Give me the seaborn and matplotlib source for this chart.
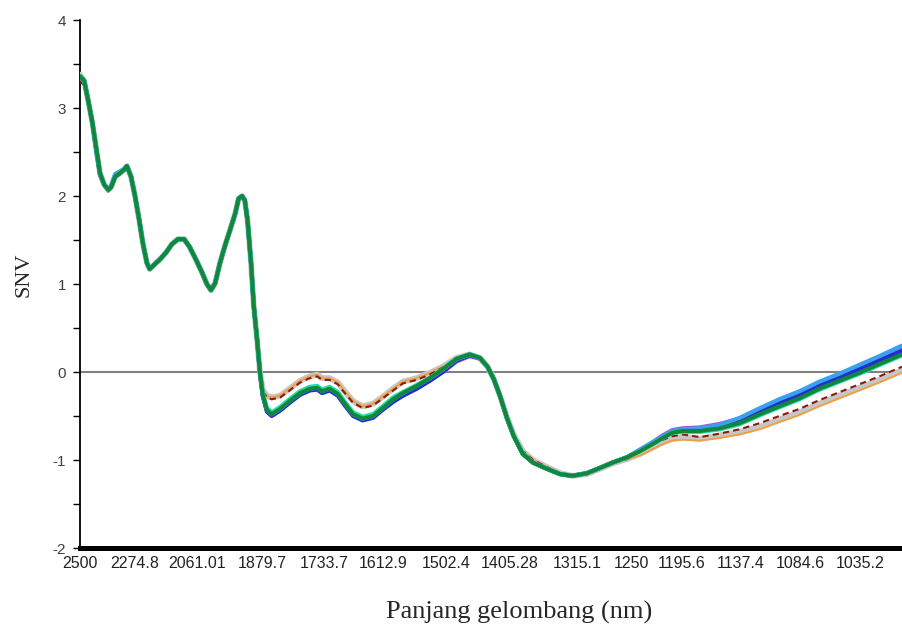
import matplotlib
matplotlib.use("Agg")
import matplotlib.pyplot as plt
import numpy as np
import pandas as pd
import seaborn as sns
from matplotlib.ticker import FixedLocator, MultipleLocator

# Wavenumber grid (cm^-1); the x axis is linear in wavenumber, labelled in nm
wavenumber = [
    4000, 4030, 4060, 4090, 4115, 4145, 4175, 4205, 4225, 4255,
    4290, 4320, 4340, 4370, 4400, 4430, 4455, 4485, 4505, 4545,
    4580, 4625, 4665, 4710, 4755, 4795, 4840, 4885, 4920, 4950,
    4980, 5015, 5050, 5085, 5125, 5150, 5175, 5195, 5215, 5240,
    5260, 5285, 5305, 5325, 5355, 5390, 5450, 5520, 5595, 5665,
    5720, 5755, 5810, 5870, 5920, 5980, 6050, 6125, 6195, 6270,
    6340, 6440, 6535, 6630, 6730, 6825, 6900, 6955, 7000, 7045,
    7095, 7145, 7210, 7285, 7385, 7480, 7570, 7675, 7770, 7860,
    7965, 8060, 8150, 8225, 8295, 8370, 8495, 8640, 8785, 8930,
    9070, 9215, 9360, 9505, 9650, 9795, 9960,
]

snv_green = [
    3.36, 3.31, 3.08, 2.83, 2.57, 2.26, 2.13, 2.07, 2.10, 2.22,
    2.26, 2.30, 2.34, 2.22, 1.99, 1.72, 1.47, 1.24, 1.17, 1.23,
    1.28, 1.36, 1.45, 1.51, 1.51, 1.42, 1.28, 1.13, 1.00, 0.93,
    1.01, 1.24, 1.43, 1.60, 1.80, 1.97, 2.00, 1.95, 1.72, 1.24,
    0.75, 0.35, -0.01, -0.26, -0.43, -0.48, -0.42, -0.33, -0.24, -0.19,
    -0.18, -0.22, -0.19, -0.25, -0.36, -0.48, -0.53, -0.50, -0.41, -0.31,
    -0.24, -0.16, -0.07, 0.03, 0.15, 0.20, 0.16, 0.06, -0.08, -0.27,
    -0.52, -0.73, -0.93, -1.03, -1.10, -1.16, -1.18, -1.15, -1.09, -1.03,
    -0.97, -0.90, -0.82, -0.75, -0.69, -0.67, -0.67, -0.64, -0.58, -0.48,
    -0.39, -0.30, -0.19, -0.10, -0.01, 0.09, 0.20,
]

snv_mint = [
    3.36, 3.31, 3.08, 2.83, 2.57, 2.26, 2.13, 2.07, 2.10, 2.22,
    2.26, 2.30, 2.34, 2.22, 1.99, 1.72, 1.47, 1.24, 1.17, 1.23,
    1.28, 1.36, 1.45, 1.51, 1.51, 1.42, 1.28, 1.13, 1.00, 0.93,
    1.01, 1.24, 1.43, 1.60, 1.80, 1.97, 2.00, 1.95, 1.72, 1.24,
    0.75, 0.35, 0.00, -0.24, -0.41, -0.46, -0.40, -0.31, -0.22, -0.17,
    -0.16, -0.20, -0.17, -0.23, -0.34, -0.46, -0.51, -0.48, -0.39, -0.29,
    -0.23, -0.15, -0.07, 0.03, 0.15, 0.20, 0.16, 0.06, -0.08, -0.27,
    -0.52, -0.73, -0.93, -1.03, -1.10, -1.16, -1.18, -1.15, -1.09, -1.03,
    -0.97, -0.90, -0.82, -0.75, -0.69, -0.68, -0.68, -0.65, -0.59, -0.49,
    -0.40, -0.31, -0.20, -0.11, -0.02, 0.08, 0.19,
]

snv_skyblue = [
    3.36, 3.31, 3.08, 2.83, 2.57, 2.26, 2.13, 2.07, 2.12, 2.25,
    2.28, 2.31, 2.34, 2.22, 1.99, 1.72, 1.47, 1.24, 1.17, 1.23,
    1.28, 1.36, 1.45, 1.51, 1.51, 1.42, 1.28, 1.13, 1.00, 0.93,
    1.01, 1.24, 1.43, 1.60, 1.80, 1.97, 2.00, 1.95, 1.72, 1.24,
    0.75, 0.35, -0.01, -0.26, -0.43, -0.48, -0.42, -0.33, -0.24, -0.19,
    -0.18, -0.22, -0.19, -0.25, -0.36, -0.48, -0.53, -0.50, -0.41, -0.31,
    -0.24, -0.16, -0.07, 0.03, 0.15, 0.20, 0.16, 0.06, -0.08, -0.27,
    -0.52, -0.73, -0.93, -1.03, -1.10, -1.16, -1.18, -1.15, -1.09, -1.03,
    -0.97, -0.88, -0.80, -0.73, -0.67, -0.65, -0.64, -0.60, -0.52, -0.41,
    -0.31, -0.22, -0.11, -0.02, 0.08, 0.18, 0.30,
]

snv_blue = [
    3.36, 3.31, 3.08, 2.83, 2.55, 2.24, 2.13, 2.07, 2.10, 2.22,
    2.26, 2.30, 2.34, 2.22, 1.99, 1.72, 1.47, 1.24, 1.17, 1.23,
    1.28, 1.36, 1.45, 1.51, 1.51, 1.42, 1.28, 1.13, 1.00, 0.93,
    1.01, 1.24, 1.43, 1.60, 1.80, 1.97, 2.00, 1.95, 1.72, 1.24,
    0.75, 0.35, -0.01, -0.27, -0.45, -0.50, -0.44, -0.35, -0.26, -0.21,
    -0.20, -0.24, -0.21, -0.27, -0.38, -0.50, -0.55, -0.52, -0.43, -0.34,
    -0.27, -0.19, -0.10, 0.00, 0.13, 0.19, 0.16, 0.06, -0.08, -0.27,
    -0.52, -0.73, -0.93, -1.03, -1.10, -1.16, -1.18, -1.15, -1.09, -1.03,
    -0.97, -0.89, -0.81, -0.74, -0.68, -0.66, -0.65, -0.62, -0.55, -0.45,
    -0.35, -0.26, -0.15, -0.06, 0.03, 0.13, 0.24,
]

snv_purple = [
    3.36, 3.31, 3.08, 2.83, 2.57, 2.26, 2.13, 2.07, 2.10, 2.22,
    2.26, 2.30, 2.34, 2.22, 1.99, 1.72, 1.47, 1.24, 1.17, 1.23,
    1.28, 1.36, 1.45, 1.51, 1.51, 1.42, 1.28, 1.13, 1.00, 0.93,
    1.01, 1.24, 1.43, 1.60, 1.80, 1.97, 2.00, 1.95, 1.72, 1.24,
    0.75, 0.35, -0.01, -0.27, -0.44, -0.49, -0.43, -0.34, -0.25, -0.20,
    -0.19, -0.23, -0.20, -0.26, -0.37, -0.49, -0.54, -0.51, -0.42, -0.33,
    -0.27, -0.19, -0.10, 0.00, 0.12, 0.18, 0.15, 0.06, -0.08, -0.27,
    -0.52, -0.73, -0.93, -1.03, -1.10, -1.16, -1.18, -1.15, -1.09, -1.03,
    -0.97, -0.89, -0.80, -0.72, -0.66, -0.64, -0.63, -0.59, -0.53, -0.43,
    -0.33, -0.24, -0.13, -0.04, 0.05, 0.15, 0.26,
]

snv_grey = [
    3.38, 3.31, 3.08, 2.83, 2.57, 2.26, 2.13, 2.07, 2.10, 2.22,
    2.26, 2.30, 2.34, 2.22, 1.99, 1.72, 1.47, 1.24, 1.17, 1.23,
    1.28, 1.36, 1.45, 1.51, 1.51, 1.42, 1.28, 1.13, 1.00, 0.93,
    1.01, 1.24, 1.43, 1.60, 1.80, 1.97, 2.00, 1.95, 1.72, 1.24,
    0.75, 0.35, 0.00, -0.20, -0.27, -0.29, -0.27, -0.19, -0.10, -0.05,
    -0.03, -0.07, -0.07, -0.12, -0.22, -0.33, -0.39, -0.36, -0.28, -0.19,
    -0.11, -0.07, -0.01, 0.06, 0.16, 0.20, 0.16, 0.06, -0.08, -0.27,
    -0.51, -0.71, -0.90, -1.00, -1.08, -1.15, -1.18, -1.16, -1.10, -1.04,
    -0.99, -0.93, -0.86, -0.80, -0.76, -0.74, -0.76, -0.72, -0.68, -0.62,
    -0.54, -0.46, -0.36, -0.27, -0.18, -0.09, 0.02,
]

snv_darkred = [
    3.30, 3.26, 3.08, 2.83, 2.57, 2.26, 2.13, 2.05, 2.10, 2.22,
    2.26, 2.30, 2.34, 2.22, 1.99, 1.72, 1.47, 1.24, 1.17, 1.23,
    1.28, 1.36, 1.45, 1.51, 1.51, 1.42, 1.28, 1.13, 1.00, 0.93,
    1.01, 1.24, 1.43, 1.60, 1.80, 1.97, 2.00, 1.95, 1.72, 1.24,
    0.75, 0.35, 0.00, -0.22, -0.29, -0.31, -0.29, -0.21, -0.12, -0.07,
    -0.05, -0.09, -0.09, -0.14, -0.24, -0.35, -0.41, -0.38, -0.30, -0.21,
    -0.13, -0.09, -0.03, 0.05, 0.15, 0.19, 0.16, 0.06, -0.08, -0.27,
    -0.51, -0.71, -0.90, -1.00, -1.08, -1.15, -1.18, -1.16, -1.10, -1.04,
    -0.99, -0.90, -0.83, -0.77, -0.73, -0.71, -0.74, -0.70, -0.65, -0.58,
    -0.50, -0.42, -0.32, -0.23, -0.14, -0.05, 0.06,
]

snv_orange = [
    3.36, 3.31, 3.08, 2.83, 2.57, 2.26, 2.13, 2.07, 2.10, 2.22,
    2.26, 2.30, 2.34, 2.22, 1.99, 1.72, 1.47, 1.24, 1.17, 1.23,
    1.28, 1.36, 1.45, 1.51, 1.51, 1.42, 1.28, 1.13, 1.00, 0.93,
    1.01, 1.24, 1.43, 1.60, 1.80, 1.97, 2.00, 1.95, 1.72, 1.24,
    0.75, 0.35, 0.00, -0.20, -0.27, -0.29, -0.27, -0.19, -0.10, -0.05,
    -0.03, -0.07, -0.07, -0.12, -0.22, -0.33, -0.39, -0.36, -0.28, -0.19,
    -0.11, -0.07, -0.01, 0.06, 0.16, 0.20, 0.16, 0.06, -0.08, -0.27,
    -0.51, -0.71, -0.90, -1.00, -1.08, -1.15, -1.18, -1.16, -1.10, -1.04,
    -0.99, -0.95, -0.88, -0.82, -0.78, -0.77, -0.78, -0.75, -0.71, -0.65,
    -0.57, -0.49, -0.39, -0.30, -0.21, -0.12, -0.01,
]

# Tick labels on the wavelength scale (nm)
tick_nm = ["2500", "2274.8", "2061.01", "1879.7", "1733.7", "1612.9", "1502.4",
           "1405.28", "1315.1", "1250", "1195.6", "1137.4", "1084.6", "1035.2"]

sns.set_theme(style="white")
plt.rcParams["font.family"] = ["Liberation Sans", "DejaVu Sans"]
plt.rcParams["axes.unicode_minus"] = False

fig = plt.figure(figsize=(9.02, 6.26), dpi=100)
ax = fig.add_axes([80 / 902, 78 / 626, 822 / 902, 528 / 626])

# drawing order: light/offset spectra first, dark green on top
spectra = [
    ("grey", snv_grey, "#c6c6c6", 4.2, None),
    ("orange", snv_orange, "#f0a040", 1.4, None),
    ("darkred", snv_darkred, "#8b1a10", 1.5, (3, 2)),
    ("purple", snv_purple, "#b048e0", 3.0, None),
    ("blue", snv_blue, "#2030d0", 3.0, None),
    ("skyblue", snv_skyblue, "#3aa0f0", 3.0, None),
    ("mint", snv_mint, "#20e0a8", 3.2, None),
    ("green", snv_green, "#12873c", 2.9, None),
]

for name, values, color, lw, dash in spectra:
    df = pd.DataFrame({"wavenumber": wavenumber, "snv": values})
    sns.lineplot(data=df, x="wavenumber", y="snv", ax=ax, color=color,
                 linewidth=lw, estimator=None, sort=False, zorder=3)
    if dash is not None:
        ax.lines[-1].set_dashes(dash)

ax.axhline(0, color="#808080", linewidth=1.5, zorder=1)

ax.set_xlim(4000, 9960)
ax.set_ylim(-2, 4)

ax.xaxis.set_major_locator(FixedLocator([1e7 / float(t) for t in tick_nm]))
ax.set_xticklabels(tick_nm)
ax.yaxis.set_major_locator(MultipleLocator(1))
ax.yaxis.set_minor_locator(MultipleLocator(0.5))

ax.tick_params(axis="x", length=0, pad=6, labelsize=11.5, labelcolor="#222222")
ax.tick_params(axis="y", which="both", direction="out", length=5, width=1.0,
               color="black", left=True, labelsize=11, labelcolor="#404040", pad=5)

for side in ("top", "right"):
    ax.spines[side].set_visible(False)
ax.spines["left"].set_color("black")
ax.spines["left"].set_linewidth(1.3)
ax.spines["bottom"].set_color("black")
ax.spines["bottom"].set_linewidth(3.6)

ax.set_xlabel("")
ax.set_ylabel("")
fig.text(28 / 902, 1 - 275 / 626, "SNV", rotation=90, rotation_mode="anchor",
         ha="center", va="baseline", fontsize=16, family="Liberation Serif")
fig.text(519 / 902, 7 / 626, "Panjang gelombang (nm)", ha="center", va="baseline",
         fontsize=19, family="Liberation Serif")

fig.savefig("out.png", dpi=100)
